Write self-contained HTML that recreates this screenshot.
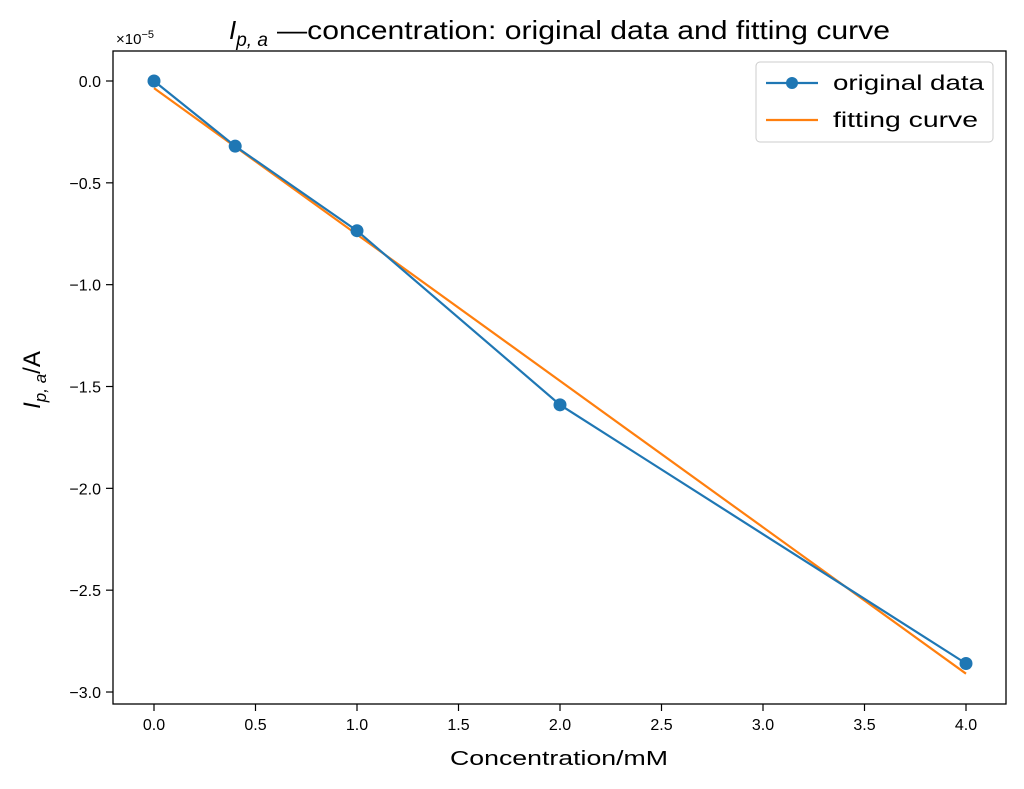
<!DOCTYPE html>
<html><head><meta charset="utf-8"><style>
body{margin:0;background:#fff;width:1024px;height:784px;overflow:hidden}
svg text{font-family:"Liberation Sans","DejaVu Sans",sans-serif}
</style></head><body>
<svg id="chart" width="1024" height="784" xmlns="http://www.w3.org/2000/svg">
<rect x="113" y="51" width="893" height="653" fill="#fff"/>
<g id="marks"></g>
<rect x="113" y="51" width="893" height="653" fill="none" stroke="#000" stroke-width="1.3"/>
<g id="ticks"></g>
<text x="229" y="39" font-size="26"><tspan font-style="italic">I</tspan><tspan font-style="italic" font-size="19" dy="7">p, a</tspan><tspan dy="-7" x="277" textLength="613" lengthAdjust="spacingAndGlyphs">—concentration: original data and fitting curve</tspan></text>
<text x="116" y="44" font-size="15">×10<tspan font-size="11" dy="-6">−5</tspan></text>
<text x="559" y="765" font-size="20" text-anchor="middle" textLength="218" lengthAdjust="spacingAndGlyphs">Concentration/mM</text>
<text transform="translate(40,380) rotate(-90)" font-size="24" text-anchor="middle"><tspan font-style="italic">I</tspan><tspan font-style="italic" font-size="17" dy="6">p, a</tspan><tspan dy="-6">/A</tspan></text>
<g>
<rect x="756" y="62" width="237" height="80" rx="4" fill="#fff" stroke="#ccc"/>
<line x1="766" y1="83" x2="818" y2="83" stroke="#1f77b4" stroke-width="2.2"/>
<circle cx="792" cy="83" r="6" fill="#1f77b4"/>
<text x="833" y="90" font-size="21" textLength="151" lengthAdjust="spacingAndGlyphs">original data</text>
<line x1="766" y1="120" x2="818" y2="120" stroke="#ff7f0e" stroke-width="2.2"/>
<text x="833" y="127" font-size="21" textLength="145" lengthAdjust="spacingAndGlyphs">fitting curve</text>
</g>
</svg>
<script>
const concentrations=[0,0.4,1,2,4];
const currents=[0,-0.32,-0.735,-1.59,-2.86];
const fitX=[0,4];
const fitY=[-0.035,-2.91];
const xTicks=[0,0.5,1,1.5,2,2.5,3,3.5,4];
const yTicks=[0,-0.5,-1,-1.5,-2,-2.5,-3];
const xs=v=>154+v*203;
const ys=v=>81-v*203.67;
const NS="http://www.w3.org/2000/svg";
const marks=document.getElementById('marks'),ticks=document.getElementById('ticks');
function mk(t,a,p){const e=document.createElementNS(NS,t);for(const k in a)e.setAttribute(k,a[k]);p.appendChild(e);return e;}
let e=mk('polyline',{points:fitX.map((x,i)=>xs(x)+','+ys(fitY[i])).join(' '),fill:'none',stroke:'#ff7f0e','stroke-width':2.2},marks);


e=mk('polyline',{points:concentrations.map((x,i)=>xs(x)+','+ys(currents[i])).join(' '),fill:'none',stroke:'#1f77b4','stroke-width':2.2},marks);


concentrations.forEach((x,i)=>{const c=mk('circle',{cx:xs(x),cy:ys(currents[i]),r:6.5,fill:'#1f77b4'},marks);

});
xTicks.forEach(v=>{const l=mk('line',{x1:xs(v),x2:xs(v),y1:704,y2:711,stroke:'#000','stroke-width':1.2},ticks);


const t=mk('text',{x:xs(v),y:730,'font-size':16,'text-anchor':'middle'},ticks);t.textContent=v.toFixed(1);

});
yTicks.forEach(v=>{const l=mk('line',{x1:106,x2:113,y1:ys(v),y2:ys(v),stroke:'#000','stroke-width':1.2},ticks);


const t=mk('text',{x:101,y:ys(v)+6,'font-size':16,'text-anchor':'end'},ticks);t.textContent=(v<0?'−':'')+Math.abs(v).toFixed(1);

});
</script>
</body></html>
